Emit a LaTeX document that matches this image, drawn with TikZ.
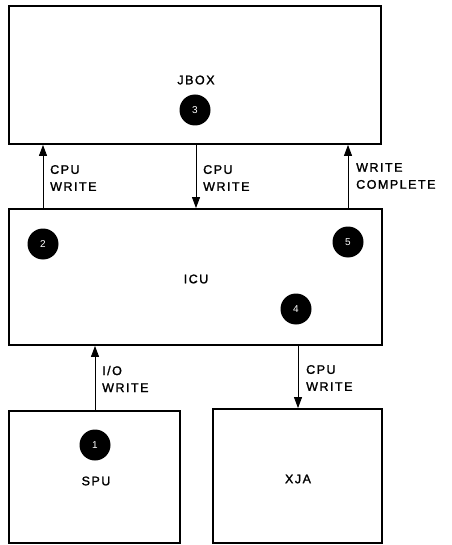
\documentclass[tikz,border=0pt]{standalone}
\usepackage{fontspec}
\setmainfont{Liberation Sans}[LetterSpace=12,FakeBold=1.6]
\newfontfamily\numfont{Liberation Sans}
\usetikzlibrary{arrows.meta}
\begin{document}
\begin{tikzpicture}[x=1pt,y=-1pt,
  box/.style={draw,line width=1.8pt,minimum width=#1,inner sep=0pt},
  lbl/.style={font=\fontsize{12.5}{15}\selectfont,inner sep=0pt},
  side/.style={font=\fontsize{12.5}{17}\selectfont,inner sep=0pt,anchor=west,align=left},
  dot/.style={circle,fill=black,minimum size=31pt,inner sep=0pt,text=white,font=\numfont\fontsize{10}{10}\selectfont},
  arr/.style={line width=0.9pt,-{Triangle[length=11pt,width=8pt]}}]
\useasboundingbox (0,0) rectangle (451,545);
\node[box=372pt,minimum height=138pt] (jbox) at (195,75) {};
\node[box=373pt,minimum height=136pt] (icu) at (195.5,277) {};
\node[box=171pt,minimum height=132pt] (spu) at (94.5,477) {};
\node[box=169pt,minimum height=134pt] (xja) at (297.5,476) {};
\node[lbl] (tj) at (196,80) {JBOX};
\node[lbl] (ti) at (196,279) {ICU};
\node[lbl] (ts) at (96,481) {SPU};
\node[lbl] (tx) at (298,479) {XJA};
\node[dot] (c3) at (195,110) {3};
\node[dot] (c2) at (43,244) {2};
\node[dot] (c5) at (348,242) {5};
\node[dot] (c4) at (296,309) {4};
\node[dot] (c1) at (95,445) {1};
\coordinate (xa) at (43,0);
\coordinate (xb) at (196,0);
\coordinate (xc) at (348,0);
\coordinate (xd) at (95,0);
\coordinate (xe) at (298,0);
\draw[arr] (xa |- icu.north) -- (xa |- jbox.south);
\draw[arr] (xb |- jbox.south) -- (xb |- icu.north);
\draw[arr] (xc |- icu.north) -- (xc |- jbox.south);
\draw[arr] (xd |- spu.north) -- (xd |- icu.south);
\draw[arr] (xe |- icu.south) -- (xe |- xja.north);
\node[side] (la) at (50,178) {CPU\\WRITE};
\node[side] (lb) at (203,178) {CPU\\WRITE};
\node[side] (lc) at (356,176) {WRITE\\COMPLETE};
\node[side] (ld) at (102,379) {I/O\\WRITE};
\node[side] (le) at (306,378) {CPU\\WRITE};
\end{tikzpicture}
\end{document}
